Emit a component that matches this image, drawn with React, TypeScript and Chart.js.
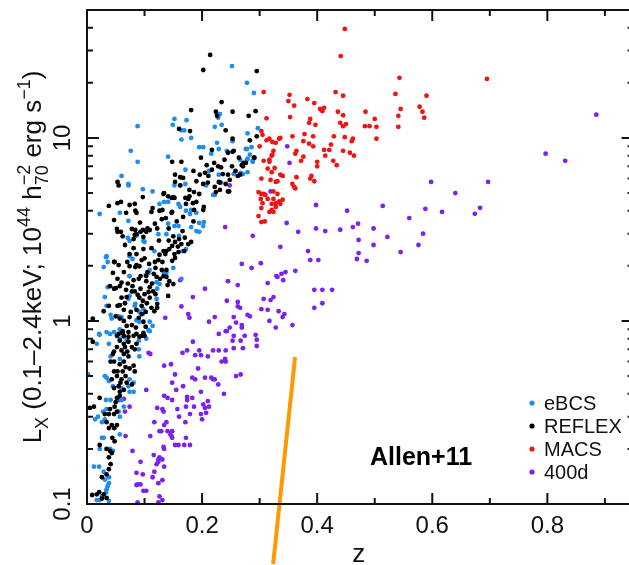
import { useEffect, useRef } from "react";
import { Chart, registerables } from "chart.js";

Chart.register(...registerables);

const FONT = '"Liberation Sans", Arial, Helvetica, sans-serif';

// ---- data: [z, Lx] ----
const ebcs: number[][] = [
  [0.252,24.7],[0.278,20],[0.29,17.6],[0.088,11.6],[0.152,12.7],[0.169,11.0],[0.164,9.8],[0.181,10.0],[0.076,8.5],[0.088,7.4],
  [0.06,6.2],[0.072,5.5],[0.097,5.25],[0.114,5.1],[0.141,7.9],[0.171,6.7],[0.152,5.5],[0.162,5.5],[0.171,5.6],[0.195,8.9],
  [0.202,8.9],[0.222,11.5],[0.231,13.5],[0.228,12.9],[0.234,11.8],[0.226,9.4],[0.216,8.2],[0.229,8.7],[0.243,8.5],[0.253,9.6],
  [0.279,10.6],[0.297,11.3],[0.278,8.7],[0.283,8.1],[0.266,7.6],[0.278,7.6],[0.288,7.5],[0.212,6.6],[0.229,6.3],[0.233,5.7],
  [0.222,4.88],[0.219,4.88],[0.207,5.5],[0.279,6.5],[0.271,6.35],[0.286,8.9],[0.276,8.7],[0.279,7.7],[0.288,7.4],[0.267,6.45],
  [0.255,6.35],[0.022,3.84],[0.057,3.9],[0.072,3.52],[0.141,4.47],[0.134,4.47],[0.126,4.36],[0.159,4.36],[0.162,4.2],[0.172,4.0],
  [0.179,3.84],[0.19,3.9],[0.181,4.04],[0.195,3.43],[0.202,3.3],[0.203,3.47],[0.181,3.26],[0.19,3.1],[0.195,3.07],[0.152,3.3],
  [0.159,3.3],[0.141,3.4],[0.086,2.92],[0.074,2.74],[0.071,2.84],[0.098,2.74],[0.1,2.7],[0.124,2.98],[0.138,2.98],[0.16,2.92],
  [0.166,2.41],[0.172,2.47],[0.117,2.41],[0.029,1.97],[0.033,2.23],[0.074,2.26],[0.079,2.18],[0.109,1.9],[0.107,1.83],[0.102,1.78],
  [0.133,1.85],[0.138,1.83],[0.15,1.95],[0.164,1.7],[0.121,1.63],[0.126,1.59],[0.036,1.53],[0.031,1.35],[0.034,1.21],[0.041,1.08],
  [0.043,1.03],[0.055,1.06],[0.06,1.05],[0.074,1.37],[0.072,1.32],[0.083,1.21],[0.084,1.24],[0.091,1.12],[0.098,1.16],[0.097,1.09],
  [0.086,1.01],[0.091,0.99],[0.021,0.85],[0.034,0.87],[0.047,0.87],[0.057,0.9],[0.059,0.87],[0.109,0.88],[0.114,0.94],[0.109,0.99],
  [0.121,1.32],[0.122,1.5],[0.022,0.84],[0.04,0.85],[0.038,0.75],[0.057,0.8],[0.064,0.82],[0.069,0.78],[0.09,0.78],[0.103,0.8],
  [0.107,0.89],[0.09,0.7],[0.091,0.64],[0.057,0.62],[0.041,0.64],[0.002,0.51],[0.031,0.5],[0.034,0.49],[0.038,0.47],[0.074,0.48],
  [0.081,0.46],[0.045,0.44],[0.06,0.43],[0.072,0.44],[0.074,0.41],[0.081,0.41],[0.033,0.37],[0.041,0.37],[0.06,0.37],[0.064,0.34],
  [0.028,0.32],[0.034,0.33],[0.014,0.29],[0.019,0.3],[0.026,0.28],[0.031,0.29],[0.055,0.32],[0.057,0.3],[0.048,0.26],[0.057,0.24],
  [0.029,0.23],[0.026,0.23],[0.022,0.2],[0.04,0.2],[0.045,0.195],[0.012,0.16],[0.021,0.16],[0.029,0.15],[0.038,0.14],[0.031,0.136],
  [0.038,0.13],[0.034,0.12],[0.033,0.116],[0.026,0.11],[0.022,0.105],[0.038,0.104],[0.017,0.105],[0.036,0.125],[0.017,0.75],[0.034,2.26],
  [0.036,2.1],[0.072,5.6],[0.149,11.8],[0.164,11.0],[0.074,1.76],[0.173,12.5],
];

const reflex: number[][] = [
  [0.214,28.4],[0.202,23.5],[0.295,23.2],[0.234,15.7],[0.181,14.2],[0.224,13.9],[0.226,13.2],[0.253,13.9],[0.293,14.0],[0.281,13.2],
  [0.16,11.2],[0.179,10.9],[0.241,11.0],[0.253,9.9],[0.283,9.7],[0.295,10.2],[0.217,8.6],[0.245,8.3],[0.253,8.4],[0.198,7.8],
  [0.164,7.4],[0.148,7.4],[0.221,7.3],[0.228,7.0],[0.233,6.9],[0.252,7.0],[0.272,7.3],[0.276,7.3],[0.271,7.0],[0.291,7.8],
  [0.217,6.7],[0.236,6.35],[0.245,6.3],[0.266,6.3],[0.205,6.45],[0.153,6.3],[0.162,6.1],[0.167,6.05],[0.053,5.75],[0.055,5.5],
  [0.202,5.6],[0.21,5.7],[0.229,5.75],[0.231,5.7],[0.153,5.75],[0.162,5.5],[0.178,5.2],[0.186,5.06],[0.195,4.94],[0.224,5.06],
  [0.231,5.2],[0.247,5.1],[0.097,4.75],[0.133,4.94],[0.147,4.7],[0.152,4.7],[0.171,4.7],[0.178,4.8],[0.255,8.5],[0.29,7.8],
  [0.269,7.1],[0.262,6.2],[0.248,5.9],[0.245,5.1],[0.038,4.25],[0.053,4.4],[0.059,4.47],[0.074,4.3],[0.083,4.36],[0.084,4.0],
  [0.086,3.9],[0.134,5.0],[0.141,4.8],[0.15,4.75],[0.112,3.94],[0.114,4.14],[0.126,4.0],[0.131,4.04],[0.147,3.9],[0.148,3.94],
  [0.176,4.64],[0.184,4.4],[0.19,4.47],[0.172,4.36],[0.186,4.04],[0.202,4.04],[0.203,4.2],[0.053,3.07],[0.059,3.07],[0.093,3.07],
  [0.105,3.2],[0.103,3.07],[0.109,3.14],[0.084,3.14],[0.083,2.95],[0.098,2.88],[0.15,2.9],[0.16,2.8],[0.153,2.7],[0.164,2.63],
  [0.148,2.57],[0.143,2.47],[0.138,2.41],[0.176,2.63],[0.181,2.7],[0.169,2.41],[0.159,2.38],[0.152,2.32],[0.133,2.41],[0.136,2.32],
  [0.153,2.21],[0.148,2.13],[0.131,2.1],[0.124,2.15],[0.098,2.47],[0.086,2.32],[0.074,2.32],[0.086,2.02],[0.091,1.99],[0.074,1.99],
  [0.084,1.97],[0.047,2.1],[0.055,2.02],[0.045,1.83],[0.119,1.95],[0.116,1.81],[0.121,1.74],[0.138,1.9],[0.133,1.76],[0.138,1.74],
  [0.105,1.85],[0.103,1.76],[0.103,1.65],[0.093,1.76],[0.09,1.7],[0.081,1.67],[0.079,1.55],[0.05,1.51],[0.047,1.5],[0.057,1.55],
  [0.06,1.34],[0.069,1.35],[0.109,1.53],[0.107,1.44],[0.109,1.34],[0.119,1.4],[0.122,1.24],[0.122,1.18],[0.117,1.13],[0.088,1.39],
  [0.091,1.34],[0.097,1.29],[0.095,1.21],[0.095,1.09],[0.09,1.04],[0.098,0.99],[0.102,0.93],[0.057,1.22],[0.053,1.21],[0.064,1.15],
  [0.038,1.21],[0.029,1.13],[0.05,1.06],[0.057,1.03],[0.064,1.0],[0.074,1.05],[0.069,0.94],[0.072,0.87],[0.062,0.86],[0.081,0.83],
  [0.072,0.82],[0.052,0.83],[0.143,1.65],[0.14,1.57],[0.15,1.59],[0.141,1.37],[0.112,1.18],[0.102,1.12],[0.095,0.83],[0.098,0.86],
  [0.047,3.56],[0.052,3.18],[0.048,2.1],[0.053,1.7],[0.04,1.55],[0.071,1.6],[0.078,3.18],[0.086,2.98],[0.081,2.8],[0.097,3.14],
  [0.055,0.85],[0.062,0.88],[0.064,0.83],[0.086,0.85],[0.091,0.82],[0.1,0.83],[0.072,0.77],[0.064,0.75],[0.057,0.78],[0.078,0.72],
  [0.083,0.7],[0.086,0.75],[0.06,0.69],[0.064,0.66],[0.072,0.64],[0.047,0.68],[0.041,0.6],[0.047,0.6],[0.057,0.58],[0.064,0.6],
  [0.067,0.56],[0.074,0.55],[0.081,0.57],[0.083,0.53],[0.047,0.53],[0.053,0.53],[0.062,0.53],[0.043,0.48],[0.052,0.5],[0.06,0.48],
  [0.067,0.5],[0.069,0.46],[0.078,0.45],[0.047,0.43],[0.055,0.44],[0.057,0.41],[0.064,0.42],[0.022,0.38],[0.052,0.38],[0.057,0.39],
  [0.048,0.34],[0.04,0.33],[0.052,0.32],[0.012,0.34],[0.031,0.31],[0.038,0.31],[0.047,0.31],[0.034,0.28],[0.043,0.27],[0.052,0.27],
  [0.038,0.26],[0.047,0.26],[0.022,0.21],[0.034,0.2],[0.04,0.195],[0.043,0.19],[0.038,0.18],[0.041,0.165],[0.038,0.155],[0.026,0.14],
  [0.034,0.145],[0.021,0.116],[0.009,0.112],[0.029,0.113],[0.017,0.113],[0.026,0.107],[0.034,0.108],[0.005,0.335],[0.01,0.77],[0.01,1.03],
  [0.066,2.6],[0.1,2.2],[0.112,2.5],[0.125,2.75],[0.118,3.4],[0.13,3.6],[0.068,3.9],[0.092,3.45],[0.062,2.9],[0.078,1.45],
  [0.066,1.25],[0.076,1.12],[0.083,1.45],[0.086,1.15],[0.093,1.5],[0.1,1.4],[0.104,1.25],[0.113,1.6],[0.115,1.45],[0.127,1.7],
  [0.13,1.9],[0.126,2.3],[0.118,2.1],[0.108,2.05],[0.095,2.15],[0.081,2.5],[0.07,2.1],[0.064,1.85],[0.06,1.62],[0.068,1.48],
  [0.078,0.95],[0.085,0.92],[0.066,0.72],[0.07,0.68],[0.052,0.72],[0.045,0.66],[0.058,0.46],[0.05,0.36],[0.044,0.23],[0.048,0.22],
  [0.142,3.2],[0.156,3.5],[0.166,3.1],[0.17,2.85],[0.142,2.75],[0.158,2.55],[0.185,3.5],[0.167,3.7],[0.137,3.65],[0.122,3.2],
  [0.19,5.8],[0.196,6.3],[0.185,6.6],[0.211,6.2],[0.222,5.4],[0.241,5.6],[0.258,6.6],[0.264,7.8],[0.239,7.6],[0.208,7.1],
];

const macs: number[][] = [
  [0.448,39.4],[0.441,28],[0.543,21.3],[0.695,21],[0.536,17.4],[0.59,17],[0.545,14.4],[0.578,14.8],[0.541,13.2],[0.583,13.9],
  [0.586,12.9],[0.541,11.5],[0.432,17.8],[0.445,17],[0.383,16.3],[0.395,15.5],[0.405,14.4],[0.409,14.0],[0.412,14.6],[0.436,13.9],
  [0.445,13.3],[0.388,12.7],[0.386,12.1],[0.397,11.8],[0.44,12.1],[0.45,11.9],[0.445,11.6],[0.484,13.9],[0.5,12.7],[0.483,11.6],
  [0.491,11.6],[0.503,11.5],[0.378,10.5],[0.393,10.2],[0.376,9.6],[0.386,9.3],[0.393,9.0],[0.429,10.2],[0.448,10.1],[0.462,9.9],
  [0.46,9.6],[0.424,9.2],[0.412,8.6],[0.421,8.6],[0.445,8.5],[0.457,8.3],[0.464,8.0],[0.376,7.9],[0.414,8.0],[0.372,7.5],
  [0.428,7.5],[0.434,7.1],[0.4,7.4],[0.4,7.0],[0.388,6.0],[0.39,6.2],[0.395,5.8],[0.307,17.8],[0.352,17.2],[0.35,15.9],
  [0.36,15.0],[0.353,13.0],[0.312,12.8],[0.503,9.9],[0.303,10.9],[0.305,10.4],[0.312,9.7],[0.317,9.9],[0.334,9.9],[0.357,10.2],
  [0.322,9.5],[0.3,9.0],[0.324,8.5],[0.321,8.0],[0.364,8.5],[0.362,8.2],[0.317,7.6],[0.317,7.4],[0.326,6.85],[0.314,6.8],
  [0.336,6.3],[0.34,6.2],[0.364,6.1],[0.303,6.0],[0.319,5.9],[0.328,5.75],[0.331,5.8],[0.357,5.6],[0.36,5.4],[0.362,5.3],
  [0.298,5.06],[0.303,4.94],[0.307,4.94],[0.31,4.88],[0.324,5.1],[0.331,4.94],[0.302,4.64],[0.314,4.64],[0.324,4.64],[0.334,4.5],
  [0.34,4.6],[0.305,4.4],[0.321,4.36],[0.328,4.4],[0.336,4.36],[0.303,4.14],[0.321,4.04],[0.328,4.2],[0.317,3.94],[0.324,3.94],
  [0.298,3.74],[0.307,7.5],[0.322,8.1],[0.321,6.5],[0.303,3.47],[0.309,3.5],[0.328,9.4],[0.336,10.0],
];

const d400: number[][] = [
  [0.885,13.4],[0.797,8.2],[0.831,7.5],[0.598,5.75],[0.697,5.75],[0.64,5.0],[0.514,4.25],[0.588,4.1],[0.617,3.94],[0.683,4.15],
  [0.674,3.85],[0.56,3.65],[0.522,2.88],[0.584,3.0],[0.576,2.6],[0.545,2.38],[0.398,4.3],[0.452,4.0],[0.367,3.07],[0.398,3.2],
  [0.414,3.1],[0.44,3.15],[0.462,3.26],[0.471,3.4],[0.498,3.2],[0.472,2.77],[0.498,2.6],[0.384,2.41],[0.388,2.15],[0.402,2.15],
  [0.472,2.35],[0.469,2.18],[0.486,2.13],[0.395,1.48],[0.409,1.48],[0.426,1.48],[0.409,1.25],[0.395,1.18],[0.348,9.0],[0.352,7.3],
  [0.319,5.1],[0.248,5.5],[0.347,3.43],[0.24,3.26],[0.288,2.92],[0.336,2.54],[0.269,2.05],[0.286,1.95],[0.302,2.07],[0.345,1.85],
  [0.329,1.76],[0.331,1.74],[0.338,1.81],[0.341,1.67],[0.314,1.61],[0.362,1.88],[0.262,1.57],[0.245,1.65],[0.205,1.5],[0.162,1.67],
  [0.184,1.35],[0.243,1.29],[0.262,1.27],[0.266,1.18],[0.307,1.32],[0.319,1.3],[0.324,1.35],[0.303,1.16],[0.314,1.15],[0.333,1.13],
  [0.343,1.09],[0.34,1.05],[0.357,0.95],[0.328,0.92],[0.317,1.0],[0.283,1.06],[0.255,1.05],[0.259,0.98],[0.269,0.95],[0.269,0.92],
  [0.274,0.83],[0.248,0.92],[0.243,0.88],[0.222,1.05],[0.212,0.99],[0.176,1.09],[0.178,1.04],[0.164,1.2],[0.136,1.04],[0.293,0.84],
  [0.229,0.85],[0.074,1.76],[0.262,1.2],[0.279,1.08],[0.241,0.88],[0.255,0.83],[0.253,0.78],[0.267,0.78],[0.295,0.79],[0.295,0.73],
  [0.271,0.71],[0.255,0.71],[0.229,0.69],[0.241,0.69],[0.219,0.69],[0.184,0.77],[0.166,0.67],[0.174,0.69],[0.188,0.65],[0.198,0.65],
  [0.195,0.69],[0.21,0.64],[0.24,0.62],[0.241,0.6],[0.234,0.6],[0.134,0.57],[0.146,0.58],[0.153,0.51],[0.193,0.55],[0.183,0.49],
  [0.188,0.48],[0.205,0.49],[0.216,0.49],[0.219,0.48],[0.222,0.48],[0.259,0.5],[0.267,0.51],[0.148,0.46],[0.228,0.45],[0.167,0.44],
  [0.155,0.42],[0.198,0.41],[0.238,0.4],[0.134,0.39],[0.14,0.38],[0.148,0.37],[0.174,0.385],[0.174,0.37],[0.183,0.38],[0.172,0.34],
  [0.186,0.34],[0.202,0.35],[0.21,0.365],[0.205,0.335],[0.212,0.34],[0.157,0.33],[0.122,0.335],[0.131,0.33],[0.133,0.32],[0.179,0.31],
  [0.198,0.31],[0.2,0.29],[0.207,0.315],[0.16,0.3],[0.138,0.28],[0.134,0.27],[0.117,0.28],[0.171,0.28],[0.126,0.25],[0.129,0.25],
  [0.14,0.25],[0.148,0.25],[0.145,0.24],[0.147,0.235],[0.148,0.23],[0.172,0.23],[0.11,0.235],[0.153,0.21],[0.159,0.21],[0.169,0.21],
  [0.179,0.21],[0.133,0.205],[0.134,0.2],[0.079,0.195],[0.116,0.185],[0.126,0.18],[0.124,0.175],[0.124,0.17],[0.131,0.175],[0.093,0.17],
  [0.121,0.165],[0.134,0.16],[0.117,0.15],[0.114,0.14],[0.131,0.135],[0.124,0.13],[0.097,0.145],[0.088,0.128],[0.086,0.127],[0.093,0.128],
  [0.098,0.118],[0.103,0.118],[0.126,0.11],[0.131,0.105],[0.066,0.32],[0.074,0.34],[0.057,0.37],[0.067,0.235],[0.103,0.42],[0.107,0.67],
  [0.11,0.66],[0.064,0.375],[0.086,0.148],[0.088,0.102],[0.124,0.102],
];

// orange overlay line: [z, Lx]
const orangeLine: number[][] = [[0.3235, 0.047], [0.3616, 0.636]];

const seriesNames = ["eBCS", "REFLEX", "MACS", "400d"];
const seriesColors = ["#1e8cf0", "#000000", "#ee1515", "#7a22f0"];

const xTickValues = [0, 0.2, 0.4, 0.6, 0.8];
const xTickLabels = ["0", "0.2", "0.4", "0.6", "0.8"];
const xMinorValues = [0.1, 0.3, 0.5, 0.7, 0.9];
const yTickValues = [0.1, 1, 10];
const yTickLabels = ["0.1", "1", "10"];
const yMinorValues = [0.2, 0.3, 0.4, 0.5, 0.6, 0.7, 0.8, 0.9, 2, 3, 4, 5, 6, 7, 8, 9, 20, 30, 40];

const X_MAX = 0.9377;
const Y_MIN = 0.1;
const Y_MAX = 50;

type Part = { t: string; k: "n" | "sub" | "sup"; stack?: string };
const yTitleParts: Part[] = [
  { t: "L", k: "n" },
  { t: "X", k: "sub" },
  { t: " (0.1\u20132.4keV; 10", k: "n" },
  { t: "44", k: "sup" },
  { t: " h", k: "n" },
  { t: "70", k: "sub", stack: "\u22122" },
  { t: " erg s", k: "n" },
  { t: "\u22121", k: "sup" },
  { t: ")", k: "n" },
];

const toPts = (arr: number[][]) => arr.map(([x, y]) => ({ x, y }));

const axesPlugin = {
  id: "customAxes",
  afterDraw(chart: any) {
    const { ctx, chartArea } = chart;
    const { left, top, right, bottom } = chartArea;
    const xs = chart.scales.x;
    const ys = chart.scales.y;
    const rightAxis = right + 7;
    ctx.save();
    ctx.strokeStyle = "#111";
    ctx.lineWidth = 2;
    ctx.lineCap = "butt";
    ctx.beginPath();
    ctx.moveTo(left, top);
    ctx.lineTo(rightAxis, top);
    ctx.moveTo(left, top - 1);
    ctx.lineTo(left, bottom + 1);
    ctx.moveTo(left, bottom);
    ctx.lineTo(rightAxis, bottom);
    ctx.moveTo(rightAxis, top);
    ctx.lineTo(rightAxis, bottom);
    const MAJ = 11, MIN = 6;
    const xt = (v: number, len: number) => {
      const px = xs.getPixelForValue(v);
      ctx.moveTo(px, bottom);
      ctx.lineTo(px, bottom - len);
      ctx.moveTo(px, top);
      ctx.lineTo(px, top + len);
    };
    xTickValues.forEach((v) => xt(v, MAJ));
    xMinorValues.forEach((v) => xt(v, MIN));
    const yt = (v: number, len: number) => {
      const py = ys.getPixelForValue(v);
      ctx.moveTo(left, py);
      ctx.lineTo(left + len, py);
      ctx.moveTo(rightAxis, py);
      ctx.lineTo(rightAxis - len, py);
    };
    yTickValues.forEach((v) => yt(v, MAJ + 1));
    yMinorValues.forEach((v) => yt(v, MIN));
    ctx.stroke();

    ctx.fillStyle = "#111";
    ctx.font = `24px ${FONT}`;
    ctx.textAlign = "center";
    ctx.textBaseline = "alphabetic";
    xTickValues.forEach((v, i) => {
      ctx.fillText(xTickLabels[i], xs.getPixelForValue(v), bottom + 29);
    });
    yTickValues.forEach((v, i) => {
      const py = ys.getPixelForValue(v);
      ctx.save();
      ctx.translate(left - 17, py);
      ctx.rotate(-Math.PI / 2);
      ctx.fillText(yTickLabels[i], 0, 0);
      ctx.restore();
    });

    // x title
    ctx.font = `26px ${FONT}`;
    ctx.fillText("z", (left + right) / 2 + 2, 562);

    // y title (rich text)
    const big = `26px ${FONT}`;
    const small = `18px ${FONT}`;
    const widthOf = (p: Part) => {
      ctx.font = p.k === "n" ? big : small;
      let w = ctx.measureText(p.t).width;
      if (p.stack) w = Math.max(w, ctx.measureText(p.stack).width);
      return w;
    };
    const total = yTitleParts.reduce((s, p) => s + widthOf(p), 0);
    ctx.save();
    ctx.translate(41, (top + bottom) / 2);
    ctx.rotate(-Math.PI / 2);
    ctx.textAlign = "left";
    let cx = -total / 2;
    yTitleParts.forEach((p) => {
      const w = widthOf(p);
      ctx.font = p.k === "n" ? big : small;
      const dy = p.k === "sub" ? 7 : p.k === "sup" ? -11 : 0;
      ctx.fillText(p.t, cx, dy);
      if (p.stack) ctx.fillText(p.stack, cx, -11);
      cx += w;
    });
    ctx.restore();

    // legend
    ctx.textAlign = "left";
    ctx.font = `20px ${FONT}`;
    seriesNames.forEach((name, i) => {
      const y = 403 + i * 23;
      ctx.fillStyle = seriesColors[i];
      ctx.beginPath();
      ctx.arc(532, y, 2.6, 0, Math.PI * 2);
      ctx.fill();
      ctx.fillStyle = "#111";
      ctx.fillText(name, 544, y + 7);
    });

    // annotation
    ctx.font = `bold 25px ${FONT}`;
    ctx.fillStyle = "#000";
    ctx.fillText("Allen+11", 370, 465);
    ctx.restore();
  },
};

export default function App() {
  const ref = useRef<HTMLCanvasElement | null>(null);
  useEffect(() => {
    if (!ref.current) return;
    const mk = (i: number, arr: number[][]) => ({
      type: "scatter" as const,
      label: seriesNames[i],
      data: toPts(arr),
      backgroundColor: seriesColors[i],
      borderWidth: 0,
      pointRadius: 2.4,
      pointHoverRadius: 2.4,
    });
    const chart = new Chart(ref.current, {
      type: "scatter",
      data: {
        datasets: [
          {
            type: "line" as const,
            label: "line",
            data: toPts(orangeLine),
            borderColor: "#ff9900",
            borderWidth: 4,
            pointRadius: 0,
            clip: false as any,
          } as any,
          mk(1, reflex),
          mk(0, ebcs),
          mk(2, macs),
          mk(3, d400),
        ],
      },
      options: {
        animation: false,
        responsive: false,
        maintainAspectRatio: false,
        layout: { padding: { left: 87, top: 10, right: 0, bottom: 61 } },
        scales: {
          x: { type: "linear", min: 0, max: X_MAX, display: false },
          y: { type: "logarithmic", min: Y_MIN, max: Y_MAX, display: false },
        },
        plugins: { legend: { display: false }, tooltip: { enabled: false } },
      },
      plugins: [axesPlugin],
    });
    return () => chart.destroy();
  }, []);
  return (
    <div style={{ position: "fixed", left: 0, top: 0, width: 629, height: 565, background: "#fff" }}>
      <canvas ref={ref} width={629} height={565} style={{ display: "block", width: 629, height: 565 }} />
    </div>
  );
}
